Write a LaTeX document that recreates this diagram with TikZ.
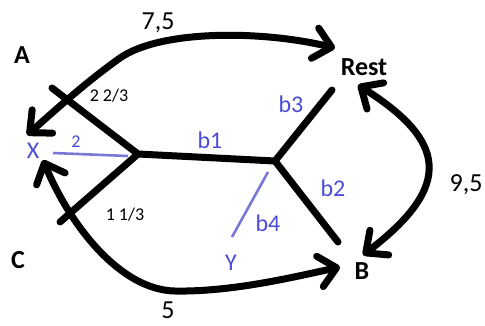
\documentclass[tikz,border=0pt]{standalone}
\usepackage{fontspec}
\setmainfont{Carlito}
\usetikzlibrary{arrows.meta}
\definecolor{lblblue}{RGB}{75,75,215}
\definecolor{lnblue}{RGB}{120,120,215}
\begin{document}
\begin{tikzpicture}[x=1pt,y=-1pt,
  heavy/.style={line width=7pt,line cap=round,line join=round},
  dblarr/.style={heavy,{Straight Barb[length=17pt,width=31pt,round]}-{Straight Barb[length=17pt,width=31pt,round]}},
  blueline/.style={line width=2.6pt,draw=lnblue},
  labbig/.style={font=\fontsize{26}{30}\selectfont\bfseries,inner sep=0pt},
  labnum/.style={font=\fontsize{26}{30}\selectfont,inner sep=0pt},
  labsmall/.style={font=\fontsize{18}{22}\selectfont,inner sep=0pt},
  labblue/.style={font=\fontsize{24}{28}\selectfont,text=lblblue,inner sep=0pt}]
\useasboundingbox (0,0) rectangle (485,325);
% labels
\node[labbig] (A) at (22,55) {A};
\node[labbig] (C) at (18,260) {C};
\node[labbig] (Rest) at (364,67) {Rest};
\node[labbig] (B) at (362,271) {B};
\node[labblue] (X) at (33,151) {X};
\node[labblue] (Y) at (231,263) {Y};
\node[labblue] (b1) at (210,140) {b1};
\node[labblue] (b2) at (333,188) {b2};
\node[labblue] (b3) at (291,104) {b3};
\node[labblue] (b4) at (268,223) {b4};
\node[labnum] (w75) at (158,23) {7,5};
\node[labnum] (w95) at (466,185) {9,5};
\node[labnum] (w5) at (168,310) {5};
\node[labsmall] (w223) at (109,96) {2 2/3};
\node[labsmall] (w113) at (125,215) {1 1/3};
\node[labsmall,text=lblblue] (w2) at (76,142) {2};
% coordinates
\coordinate (J1) at (138,154);
\coordinate (J2) at (275,161);
\coordinate (la) at (52,88);
\coordinate (lc) at (60,222);
\coordinate (r3) at (332,90);
\coordinate (r2) at (338,242);
\coordinate (bx1) at (53,153);
\coordinate (bx2) at (128,156);
\coordinate (by1) at (268,172);
\coordinate (by2) at (232,237);
\coordinate (xa) at (27,135);
\coordinate (ra) at (335,48);
\coordinate (rb) at (358,85);
\coordinate (bb) at (363,255);
\coordinate (xc) at (43,160);
\coordinate (bc) at (340,267);
% tree
\draw[heavy] (la) -- (J1) -- (lc);
\draw[heavy] (J1) -- (J2);
\draw[heavy] (r3) -- (J2) -- (r2);
% blue lines
\draw[blueline] (bx1) -- (bx2);
\draw[blueline] (by1) -- (by2);
% curved arrows
\draw[dblarr] (xa) .. controls (60,106) and (85,83) .. (120,58) .. controls (160,30) and (260,30) .. (ra);
\draw[dblarr] (rb) .. controls (445,140) and (455,185) .. (bb);
\draw[dblarr] (xc) .. controls (70,225) and (120,290) .. (175,291) .. controls (230,292) and (290,278) .. (bc);
\end{tikzpicture}
\end{document}
